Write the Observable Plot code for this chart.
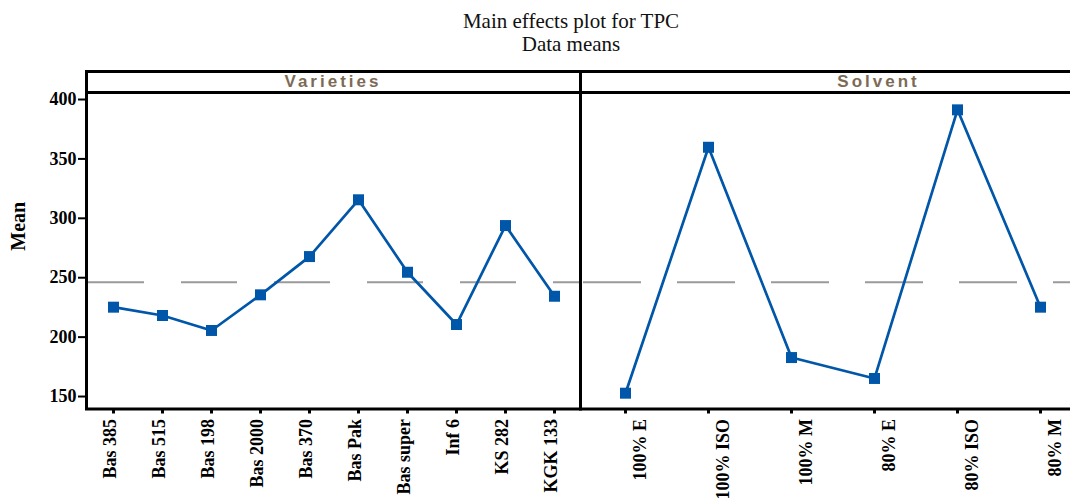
<!DOCTYPE html>
<html>
<head>
<meta charset="utf-8">
<script src="https://cdn.jsdelivr.net/npm/d3@7"></script>
<script src="https://cdn.jsdelivr.net/npm/@observablehq/plot@0.6"></script>
<style>
  html, body { margin: 0; padding: 0; background: #fff; overflow: hidden; }
  #wrap { position: relative; width: 1070px; height: 499px; overflow: hidden; background: #fff; }
  #wrap svg { position: absolute; top: 0; }
  .title { position: absolute; left: 571px; top: 10px; transform: translateX(-50%);
    font-family: "Liberation Serif", "Times New Roman", serif; font-size: 21px; line-height: 23px;
    text-align: center; white-space: nowrap; color: #111; }
  .strip { position: absolute; top: 69.5px; height: 24px; box-sizing: border-box; border: 3px solid #000;
    font-family: "Liberation Sans", Arial, sans-serif; font-weight: bold; font-size: 17px; letter-spacing: 3px;
    line-height: 18px; text-align: center; color: #7d6a55; }
</style>
</head>
<body>
<div id="wrap">
  <div class="title">Main effects plot for TPC<br>Data means</div>
</div>
<script>
// ---- data ----
const varieties = ["Bas 385","Bas 515","Bas 198","Bas 2000","Bas 370","Bas Pak","Bas super","Inf 6","KS 282","KGK 133"];
const varietyMeans = [225.2, 218.2, 205.6, 235.6, 267.8, 315.6, 254.6, 210.6, 293.9, 234.4];
const solvents = ["100% E","100% ISO","100% M","80% E","80% ISO","80% M"];
const solventMeans = [152.8, 359.8, 182.8, 165.2, 391.3, 225.2];
const yTicks = [150, 200, 250, 300, 350, 400];
const grandMean = 246.2;
const panelNames = ["Varieties", "Solvent"];

const blue = "#0056a8";
const yDomain = [139.5, 405.9];
const font = {fontFamily: "'Liberation Serif','Times New Roman',serif", fontWeight: "bold", fontSize: "18px", color: "#000", background: "transparent", maxWidth: "none", overflow: "visible"};

const leftData = varieties.map((c, i) => ({cat: c, mean: varietyMeans[i]}));
const rightData = solvents.map((c, i) => ({cat: c, mean: solventMeans[i]}));

const wrap = document.getElementById("wrap");

function strip(left, width, text) {
  const d = document.createElement("div");
  d.className = "strip";
  d.style.left = left + "px";
  d.style.width = width + "px";
  d.textContent = text;
  wrap.appendChild(d);
}

// Left panel (Varieties)
const left = Plot.plot({
  width: 582, height: 499,
  marginLeft: 86, marginRight: 2, marginTop: 92, marginBottom: 90.5,
  style: font,
  x: {type: "point", domain: varieties, range: [109, 558], padding: 0},
  y: {domain: yDomain},
  marks: [
    Plot.ruleY([grandMean], {stroke: "#9a9a9a", strokeWidth: 2, strokeDasharray: "56,37", strokeDashoffset: -2}),
    Plot.line(leftData, {x: "cat", y: "mean", stroke: blue, strokeWidth: 2.7}),
    Plot.dot(leftData, {x: "cat", y: "mean", symbol: "square", fill: blue, r: 6.2}),
    Plot.frame({stroke: "#000", strokeWidth: 3}),
    Plot.axisY({ticks: yTicks, tickSize: 8, tickPadding: 2, strokeWidth: 2, label: null, fontSize: 18}),
    Plot.text(["Mean"], {frameAnchor: "left", dx: -68, rotate: -90, fontSize: 20, fontWeight: "bold", fill: "#000"}),
    Plot.axisX({tickSize: 5, strokeWidth: 3, text: null, label: null}),
    Plot.axisX({tickSize: 0, tickRotate: -90, tickPadding: 10, dx: -3, label: null, fontSize: 18})
  ]
});
left.style.left = "0px";
wrap.appendChild(left);

// Right panel (Solvent)
const right = Plot.plot({
  width: 506, height: 499,
  marginLeft: 2, marginRight: 0, marginTop: 92, marginBottom: 90.5,
  style: font,
  x: {type: "point", domain: solvents, range: [45, 463], padding: 0},
  y: {domain: yDomain, axis: null},
  marks: [
    Plot.ruleY([grandMean], {stroke: "#9a9a9a", strokeWidth: 2, strokeDasharray: "58,36", strokeDashoffset: -3}),
    Plot.line(rightData, {x: "cat", y: "mean", stroke: blue, strokeWidth: 2.7}),
    Plot.dot(rightData, {x: "cat", y: "mean", symbol: "square", fill: blue, r: 6.2}),
    Plot.frame({stroke: "#000", strokeWidth: 3}),
    Plot.axisX({tickSize: 5, strokeWidth: 3, text: null, label: null}),
    Plot.axisX({tickSize: 0, tickRotate: -90, tickPadding: 10, dx: 15, label: null, fontSize: 18})
  ]
});
right.style.left = "578px";
wrap.appendChild(right);

strip(84.5, 497, panelNames[0]);
strip(578.5, 600, panelNames[1]);
</script>
</body>
</html>
